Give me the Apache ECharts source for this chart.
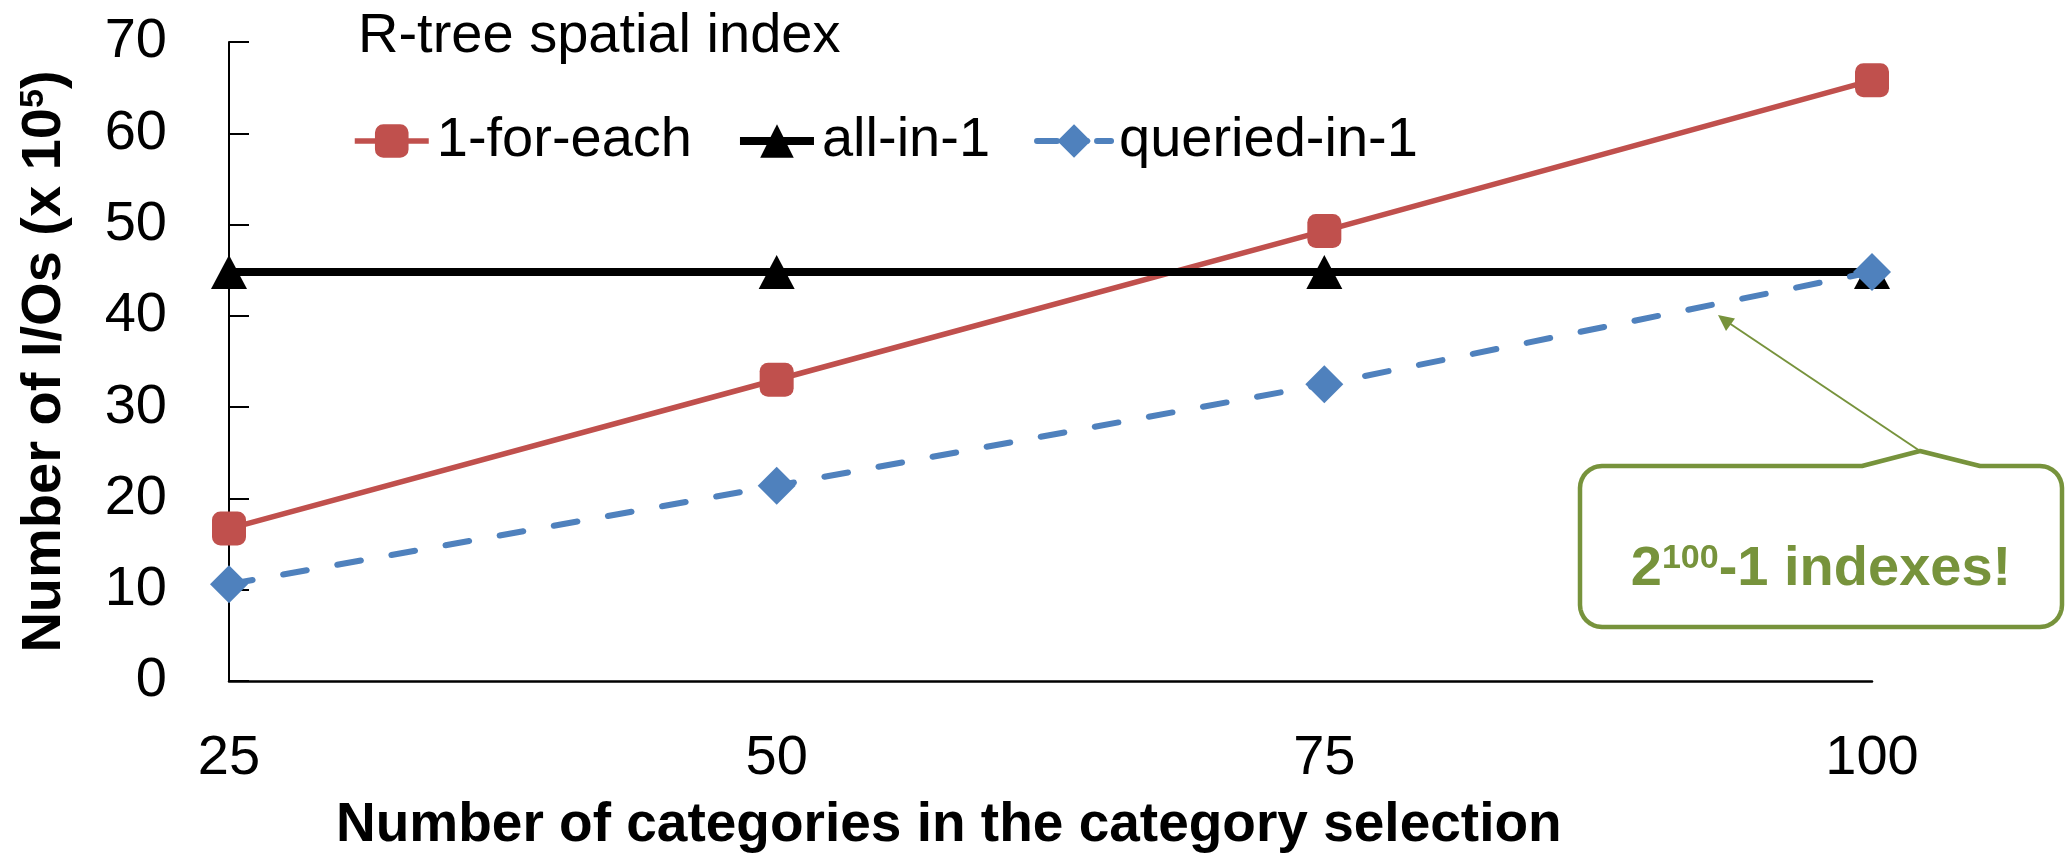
<!DOCTYPE html>
<html>
<head>
<meta charset="utf-8">
<script src="https://cdn.jsdelivr.net/npm/echarts@6/dist/echarts.min.js"></script>
<style>
html,body{margin:0;padding:0;background:#fff;}
#chart{width:2070px;height:858px;}
</style>
</head>
<body>
<div id="chart"></div>
<script>
const categories = ['25', '50', '75', '100'];
const oneForEach = [16.7, 33.0, 49.3, 65.8];
const allInOne = [44.8, 44.8, 44.8, 44.8];
const queriedInOne = [10.6, 21.4, 32.5, 44.8];
const seriesNames = ['1-for-each', 'all-in-1', 'queried-in-1'];
const yTicks = { min: 0, max: 70, interval: 10 };

const FONT = "'Liberation Sans', Arial, sans-serif";
const GREEN = '#77933C';
const RED = '#C0504D', BLUE = '#4F81BD', BLACK = '#000';

const chart = echarts.init(document.getElementById('chart'), null, { renderer: 'canvas' });

// callout outline (annotation only): rounded box with a pointer on top
const L = 1580, T = 466, R = 2062, B = 627, r = 22;
function arc(cx, cy, a0, a1, pts) {
  const n = 8;
  for (let i = 0; i <= n; i++) {
    const a = a0 + (a1 - a0) * i / n;
    pts.push([cx + r * Math.cos(a), cy + r * Math.sin(a)]);
  }
}
const calloutPts = [];
calloutPts.push([1862, T], [1920, 451], [1980, T]);
arc(R - r, T + r, -Math.PI / 2, 0, calloutPts);
arc(R - r, B - r, 0, Math.PI / 2, calloutPts);
arc(L + r, B - r, Math.PI / 2, Math.PI, calloutPts);
arc(L + r, T + r, Math.PI, Math.PI * 1.5, calloutPts);

const option = {
  backgroundColor: '#fff',
  animation: false,
  textStyle: { fontFamily: FONT, color: '#000' },
  title: [
    { text: 'R-tree spatial index', left: 353, top: 4,
      textStyle: { fontFamily: FONT, fontSize: 56, fontWeight: 'normal', color: '#000' } },
    { text: 'Number of categories in the category selection', left: 331, top: 793,
      textStyle: { fontFamily: FONT, fontSize: 55, fontWeight: 'bold', color: '#000' } }
  ],
  legend: {
    data: [
      { name: seriesNames[0], lineStyle: { width: 5.5, color: RED } },
      { name: seriesNames[1], lineStyle: { width: 8, color: BLACK } },
      { name: seriesNames[2], lineStyle: { width: 6, color: BLUE, type: [20, 10], cap: 'round' } }
    ],
    left: 347, top: 108,
    itemWidth: 74, itemHeight: 42, itemGap: 44,
    textStyle: { fontFamily: FONT, fontSize: 56, color: '#000', padding: [0, 0, 0, 3] },
    selectedMode: false
  },
  grid: { left: 229, right: 198, top: 42, bottom: 177, containLabel: false },
  xAxis: {
    type: 'category',
    data: categories,
    boundaryGap: false,
    axisLine: { lineStyle: { color: '#000', width: 2.5 } },
    axisTick: { show: false },
    axisLabel: { fontFamily: FONT, fontSize: 56, color: '#000', margin: 50 },
    splitLine: { show: false }
  },
  yAxis: {
    type: 'value',
    min: yTicks.min, max: yTicks.max, interval: yTicks.interval,
    axisLine: { show: true, lineStyle: { color: '#000', width: 2 } },
    axisTick: { show: true, inside: true, length: 20, lineStyle: { color: '#000', width: 2 } },
    axisLabel: { fontFamily: FONT, fontSize: 56, color: '#000', margin: 62 },
    splitLine: { show: false },
    name: 'Number of I/Os (x 10{sup|5})',
    nameLocation: 'middle',
    nameGap: 156,
    nameTextStyle: {
      fontFamily: FONT, fontSize: 56, fontWeight: 'bold', color: '#000', lineHeight: 56,
      rich: { sup: { fontFamily: FONT, fontSize: 34, fontWeight: 'bold', color: '#000', verticalAlign: 'top', lineHeight: 34 } }
    }
  },
  series: [
    {
      name: seriesNames[0], type: 'line', data: oneForEach, clip: false,
      symbol: 'roundRect', symbolSize: 34,
      lineStyle: { color: RED, width: 5.5 },
      itemStyle: { color: RED }
    },
    {
      name: seriesNames[1], type: 'line', data: allInOne, clip: false,
      symbol: 'triangle', symbolSize: [36, 34],
      lineStyle: { color: BLACK, width: 8 },
      itemStyle: { color: BLACK }
    },
    {
      name: seriesNames[2], type: 'line', data: queriedInOne, clip: false,
      symbol: 'diamond', symbolSize: 38,
      lineStyle: { color: BLUE, width: 6, type: [24, 31], cap: 'round' },
      itemStyle: { color: BLUE }
    }
  ],
  graphic: [
    { type: 'polygon', shape: { points: calloutPts },
      style: { fill: '#fff', stroke: GREEN, lineWidth: 4.5, lineJoin: 'round' }, z: 100 },
    { type: 'line', shape: { x1: 1920, y1: 451, x2: 1729, y2: 323 },
      style: { stroke: GREEN, lineWidth: 2 }, z: 100 },
    { type: 'polygon', shape: { points: [[1718, 315], [1735, 318.5], [1726, 331]] },
      style: { fill: GREEN }, z: 100 },
    { type: 'text', x: 1821, y: 570, z: 101,
      style: {
        text: '{b|2}{s|100}{b|-1 indexes!}',
        align: 'center', verticalAlign: 'middle',
        rich: {
          b: { fontFamily: FONT, fontSize: 56, fontWeight: 'bold', fill: GREEN, lineHeight: 56 },
          s: { fontFamily: FONT, fontSize: 34, fontWeight: 'bold', fill: GREEN, lineHeight: 34, verticalAlign: 'top' }
        }
      } }
  ]
};
chart.setOption(option);
</script>
</body>
</html>
